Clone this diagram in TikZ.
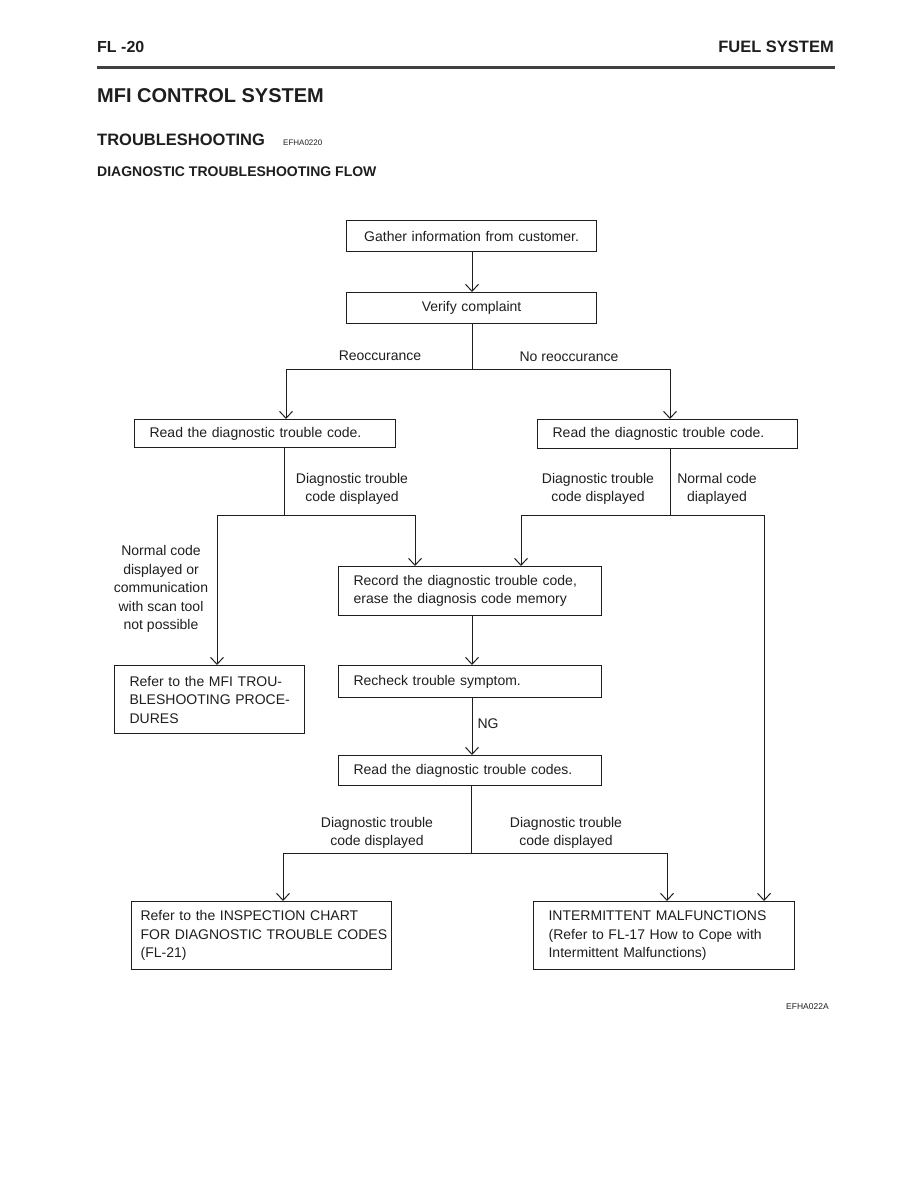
\documentclass[tikz,border=0pt]{standalone}
\usepackage{fontspec}
\setmainfont{Liberation Sans}
\usepackage{tikz}
\usetikzlibrary{arrows.meta,positioning}
\definecolor{ink}{RGB}{30,30,30}
\newcommand{\bodyfont}{\fontsize{14}{18.5}\selectfont}

\begin{document}
\begin{tikzpicture}[x=1pt,y=-1pt,ink,
    box/.style={draw,line width=1.2pt,inner xsep=15pt,inner ysep=0pt,anchor=north west,align=left,font=\bodyfont},
    lbl/.style={align=center,font=\bodyfont,inner sep=0pt},
    arr/.style={line width=1pt,-{Straight Barb[length=7pt,width=13pt]}},
    ln/.style={line width=1pt}]
  \useasboundingbox (0,0) rectangle (918,1188);
  % page head
  \node[anchor=west,inner sep=0pt,font=\bfseries\fontsize{16}{19}\selectfont] (pgno) at (97,47) {FL -20};
  \node[anchor=east,inner sep=0pt,font=\bfseries\fontsize{16.5}{19}\selectfont] (sect) at (834,47) {FUEL SYSTEM};
  \fill[ink!85] (97,66) rectangle (835,69);
  \node[anchor=west,inner sep=0pt,font=\bfseries\fontsize{20}{24}\selectfont] (title) at (97,96) {MFI CONTROL SYSTEM};
  \node[anchor=west,inner sep=0pt,font=\bfseries\fontsize{16.5}{20}\selectfont] (trbl) at (97,140) {TROUBLESHOOTING};
  \node[anchor=west,inner sep=0pt,font=\fontsize{8}{10}\selectfont] (code1) at (283,143) {EFHA0220};
  \node[anchor=west,inner sep=0pt,font=\bfseries\fontsize{14}{17}\selectfont] (flow) at (97,172) {DIAGNOSTIC TROUBLESHOOTING FLOW};

  % boxes
  \node[box,align=center,text width=220pt,minimum height=31pt] (gather) at (346,220) {Gather information from customer.};
  \node[box,align=center,text width=220pt,minimum height=31pt] (verify) at (346,292) {Verify complaint};
  \node[box,text width=231pt,minimum height=28pt] (readL) at (134,419) {Read the diagnostic trouble code.};
  \node[box,text width=230pt,minimum height=29pt] (readR) at (537,419) {Read the diagnostic trouble code.};
  \node[box,text width=233pt,minimum height=49pt] (record) at (338,566) {Record the diagnostic trouble code,\\erase the diagnosis code memory};
  \node[box,text width=233pt,minimum height=32pt] (recheck) at (338,665) {Recheck trouble symptom.};
  \node[box,text width=160pt,minimum height=68pt] (mfi) at (114,665) {\mbox{Refer to the MFI TROU-}\\\mbox{BLESHOOTING PROCE-}\\DURES};
  \node[box,text width=233pt,minimum height=30pt] (readc) at (338,755) {Read the diagnostic trouble codes.};
  \node[box,inner xsep=9pt,text width=242pt,minimum height=68pt] (inspect) at (131,901) {\mbox{Refer to the INSPECTION CHART}\\\mbox{FOR DIAGNOSTIC TROUBLE CODES}\\(FL-21)};
  \node[box,text width=231pt,minimum height=68pt] (intermit) at (533,901) {\mbox{INTERMITTENT MALFUNCTIONS}\\\mbox{(Refer to FL-17 How to Cope with}\\Intermittent Malfunctions)};

  % branch points
  \coordinate (reoL) at (286,369);
  \coordinate (reoR) at (670,369);
  \coordinate (dtcL) at (284,515);
  \coordinate (dtcLa) at (217,515);
  \coordinate (dtcLb) at (415,515);
  \coordinate (dtcR) at (670,515);
  \coordinate (dtcRa) at (521,515);
  \coordinate (dtcRb) at (764,515);
  \coordinate (finL) at (283,853);
  \coordinate (finR) at (667,853);

  % connectors
  \draw[arr] (gather.south -| 472,0) -- (verify.north -| 472,0);
  \draw[ln] (verify.south -| 472,0) -- (472,369);
  \draw[ln] (reoL) -- (reoR);
  \draw[arr] (reoL) -- (reoL |- readL.north);
  \draw[arr] (reoR) -- (reoR |- readR.north);
  \draw[ln] (readL.south -| dtcL) -- (dtcL);
  \draw[ln] (dtcLa) -- (dtcLb);
  \draw[arr] (dtcLa) -- (dtcLa |- mfi.north);
  \draw[arr] (dtcLb) -- (dtcLb |- record.north);
  \draw[ln] (readR.south -| dtcR) -- (dtcR);
  \draw[ln] (dtcRa) -- (dtcRb);
  \draw[arr] (dtcRa) -- (dtcRa |- record.north);
  \draw[arr] (dtcRb) -- (dtcRb |- intermit.north);
  \draw[arr] (record.south -| 472,0) -- (recheck.north -| 472,0);
  \draw[arr] (recheck.south -| 472,0) -- (readc.north -| 472,0);
  \draw[ln] (readc.south -| 471,0) -- (471,853);
  \draw[ln] (finL) -- (finR);
  \draw[arr] (finL) -- (finL |- inspect.north);
  \draw[arr] (finR) -- (finR |- intermit.north);

  % labels
  \node[lbl] (tReo) at (380,356) {Reoccurance};
  \node[lbl] (tNoReo) at (569,357) {No reoccurance};
  \node[lbl] (tDtcL) at (352,489) {Diagnostic trouble\\code displayed};
  \node[lbl] (tDtcR) at (598,489) {Diagnostic trouble\\code displayed};
  \node[lbl] (tNormR) at (717,489) {Normal code\\diaplayed};
  \node[lbl] (tNormL) at (161,589) {Normal code\\displayed or\\communication\\with scan tool\\not possible};
  \node[lbl] (tNG) at (488,724) {NG};
  \node[lbl] (tFinL) at (377,833) {Diagnostic trouble\\code displayed};
  \node[lbl] (tFinR) at (566,833) {Diagnostic trouble\\code displayed};
  \node[anchor=west,inner sep=0pt,font=\fontsize{8.5}{10}\selectfont] (code2) at (786,1007) {EFHA022A};
\end{tikzpicture}
\end{document}
